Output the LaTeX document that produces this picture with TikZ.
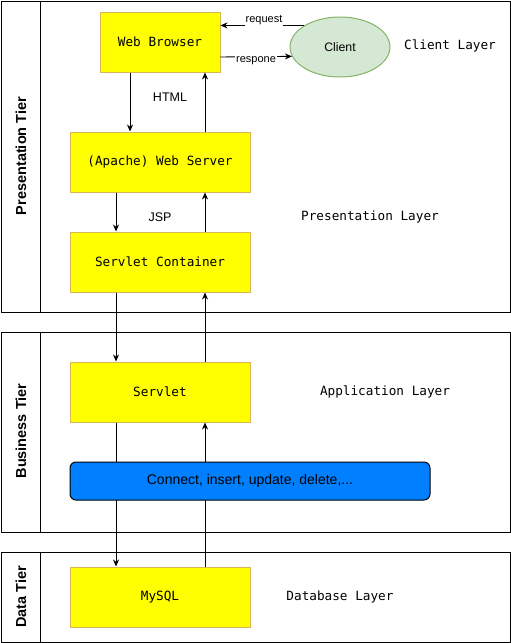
\documentclass[tikz,border=0pt]{standalone}
\usepackage{fontspec}
\setmainfont{Liberation Sans}
\setmonofont{DejaVu Sans Mono}
\usepackage{xcolor}
\usetikzlibrary{arrows.meta,shapes.geometric}

\definecolor{compfill}{HTML}{FFFF00}
\definecolor{compedge}{HTML}{D6B656}
\definecolor{clientfill}{HTML}{D5E8D4}
\definecolor{clientedge}{HTML}{82B366}
\definecolor{opsblue}{HTML}{007FFF}

\tikzset{
  component/.style={draw=compedge, fill=compfill, line width=1pt, inner sep=0pt,
    minimum width=180pt, minimum height=60pt, font=\ttfamily\fontsize{12.7}{14}\selectfont},
  layer/.style={font=\ttfamily\fontsize{12.7}{14}\selectfont},
  tier/.style={rotate=90, font=\bfseries\fontsize{14.5}{16}\selectfont},
  flow/.style={-{Stealth[length=7pt,width=6pt]}, line width=0.9pt},
  edgelabel/.style={fill=white, inner sep=1pt, font=\fontsize{11}{12}\selectfont},
}

\begin{document}
\begin{tikzpicture}[x=1pt,y=-1pt]
        \useasboundingbox (0,0) rectangle (511,643);
        % tiers
        \draw[line width=1pt] (1,1) rectangle (510,312) (40,1) -- (40,312);
        \draw[line width=1pt] (1,332) rectangle (510,532) (40,332) -- (40,532);
        \draw[line width=1pt] (1,552) rectangle (510,642) (40,552) -- (40,642);
        \node[tier] (prestier) at (21,156) {Presentation Tier};
        \node[tier] (busitier) at (21,431) {Business Tier};
        \node[tier] (datatier) at (21,597) {Data Tier};

        % components
        \node[component, minimum width=120pt] (browser) at (160,42) {Web Browser};
        \node[ellipse, draw=clientedge, fill=clientfill, line width=1pt, inner sep=0pt,
              minimum width=100pt, minimum height=60pt, font=\fontsize{12.3}{14}\selectfont]
              (client) at (340,47) {Client};
        \node[component] (webserver) at (160,162) {(Apache) Web Server};
        \node[component] (container) at (160,262) {Servlet Container};
        \node[component] (servlet) at (160,392) {Servlet};
        \node[component] (mysql) at (160,597) {MySQL};

        % layers
        \node[layer] (clientlayer) at (450,46) {Client Layer};
        \node[layer] (preslayer) at (370,217) {Presentation Layer};
        \node[layer] (applayer) at (385,392) {Application Layer};
        \node[layer] (dblayer) at (340,597) {Database Layer};

        % connectors
        \draw[flow] (client.north west) -- (client.north west -| browser.east);
        \node[edgelabel] (reqlabel) at (264,20) {request};
        \draw[flow] ([yshift=-15pt]browser.east) -- (client.191);
        \node[edgelabel] (reslabel) at (256,61) {respone};
        \draw[flow] ([xshift=-30pt]browser.south) -- ([xshift=-30pt]webserver.north);
        \draw[flow] ([xshift=45pt]webserver.north) -- ([xshift=45pt]browser.south);
        \node[font=\fontsize{12.5}{14}\selectfont] (html) at (170,97) {HTML};
        \draw[flow] ([xshift=-44pt]webserver.south) -- ([xshift=-44pt]container.north);
        \draw[flow] ([xshift=45pt]container.north) -- ([xshift=45pt]webserver.south);
        \node[font=\fontsize{12.5}{14}\selectfont] (jsp) at (160,217) {JSP};
        \draw[flow] ([xshift=-44pt]container.south) -- ([xshift=-44pt]servlet.north);
        \draw[flow] ([xshift=45pt]servlet.north) -- ([xshift=45pt]container.south);
        \draw[flow] ([xshift=-44pt]servlet.south) -- ([xshift=-44pt]mysql.north);
        \draw[flow] ([xshift=45pt]mysql.north) -- ([xshift=45pt]servlet.south);

        % operations
        \node[draw, fill=opsblue, rounded corners=6pt, line width=1pt, minimum width=360pt,
              minimum height=38pt, font=\fontsize{14}{16}\selectfont] (ops) at (250,481)
              {Connect, insert, update, delete,...};
\end{tikzpicture}
\end{document}
